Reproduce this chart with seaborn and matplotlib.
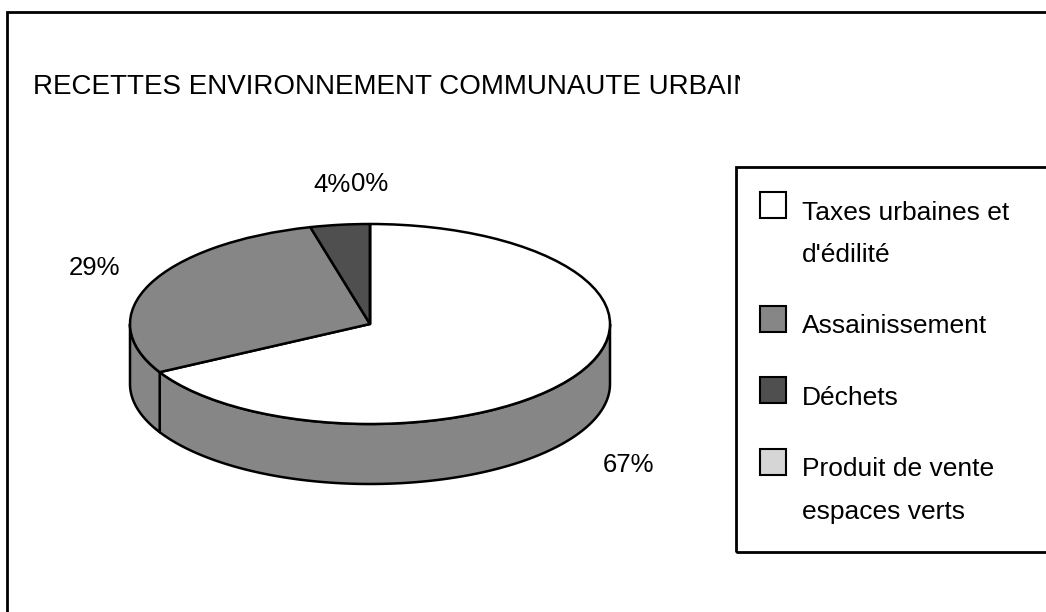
import numpy as np
import matplotlib
matplotlib.use('Agg')
import matplotlib.pyplot as plt
import seaborn as sns
from matplotlib.patches import Polygon, Rectangle
from matplotlib.transforms import Bbox, TransformedBbox

# ---- data ----
categories = ["Taxes urbaines et\nd'édilité", "Assainissement", "Déchets",
              "Produit de vente\nespaces verts"]
values = [67, 29, 4, 0]
title = "RECETTES ENVIRONNEMENT COMMUNAUTE URBAINE"

# ---- styles ----
top_colors = ['#ffffff', '#868686', '#4f4f4f', '#d6d6d6']
side_color = '#868686'
LW = 1.8

sns.set_theme(style='white')
plt.rcParams['font.family'] = ['Liberation Sans', 'DejaVu Sans']

W, H = 1046, 612
fig = plt.figure(figsize=(W / 100, H / 100), dpi=100)
fig.patch.set_facecolor('white')


def fx(x):
    return x / W


def fy(y):
    return 1 - y / H


# ---- pie geometry (pixel layout) ----
cx, cy = 370, 324
rx, ry = 240, 100
depth = 0.6  # in units of ry

x0, x1 = -1.5, 1.5
y0, y1 = -2.5, 2.3
ax_left = cx + x0 * rx
ax_w = (x1 - x0) * rx
ax_top = cy - y1 * ry
ax_h = (y1 - y0) * ry
ax = fig.add_axes([fx(ax_left), fy(ax_top + ax_h), ax_w / W, ax_h / H])

wedges, _ = ax.pie(values, colors=top_colors, startangle=90, counterclock=False,
                   wedgeprops=dict(edgecolor='black', linewidth=LW, joinstyle='round'))
ax.set_aspect('auto')
ax.set_xlim(x0, x1)
ax.set_ylim(y0, y1)
ax.axis('off')

total = float(sum(values))
bounds = 90 - 360 * np.concatenate([[0], np.cumsum(values)]) / total

# side (front) faces
for i in range(len(values)):
    a_start, a_end = bounds[i], bounds[i + 1]
    lo = max(a_end, -180.0)
    hi = min(a_start, 0.0)
    if hi - lo <= 0:
        continue
    t = np.radians(np.linspace(lo, hi, 120))
    top = np.column_stack([np.cos(t), np.sin(t)])
    bot = np.column_stack([np.cos(t[::-1]), np.sin(t[::-1]) - depth])
    ax.add_patch(Polygon(np.vstack([top, bot]), closed=True, facecolor=side_color,
                         edgecolor='black', lw=LW, joinstyle='round', zorder=0.5))

# percentage labels
for i, v in enumerate(values):
    mid = np.radians((bounds[i] + bounds[i + 1]) / 2)
    lx = 1.25 * np.cos(mid)
    ly = 1.4 * np.sin(mid)
    if ly < 0:
        ly -= depth + 0.1
    ax.text(lx, ly, f"{100 * v / total:.0f}%", ha='center', va='center',
            fontsize=18.5, color='black')

# ---- title (clipped like the original) ----
t = fig.text(fx(33), fy(94), title, fontsize=20, ha='left', va='baseline',
             color='black')
t.set_clip_box(TransformedBbox(Bbox([[0, 0], [740 / W, 1]]), fig.transFigure))
t.set_clip_on(True)

# ---- outer chart frame ----
fig.add_artist(Rectangle((fx(7), fy(700)), 1100 / W, (700 - 12) / H,
                         transform=fig.transFigure, fill=False,
                         edgecolor='black', lw=2))

# ---- legend (manual, frame extends off canvas) ----
fig.add_artist(Rectangle((fx(736), fy(552)), 400 / W, (552 - 167) / H,
                         transform=fig.transFigure, fill=False,
                         edgecolor='black', lw=2))
baseline = 220
line_h = 42
entry_gap = 71.5
for cat, col in zip(categories, top_colors):
    fig.add_artist(Rectangle((fx(760), fy(baseline - 2)), 26 / W, 26 / H,
                             transform=fig.transFigure, facecolor=col,
                             edgecolor='black', lw=1.5))
    lines = cat.split('\n')
    for j, ln in enumerate(lines):
        fig.text(fx(802), fy(baseline + j * line_h), ln, fontsize=19,
                 ha='left', va='baseline', color='black')
    baseline += (len(lines) - 1) * line_h + entry_gap

fig.savefig('out.png', dpi=100, facecolor='white')
